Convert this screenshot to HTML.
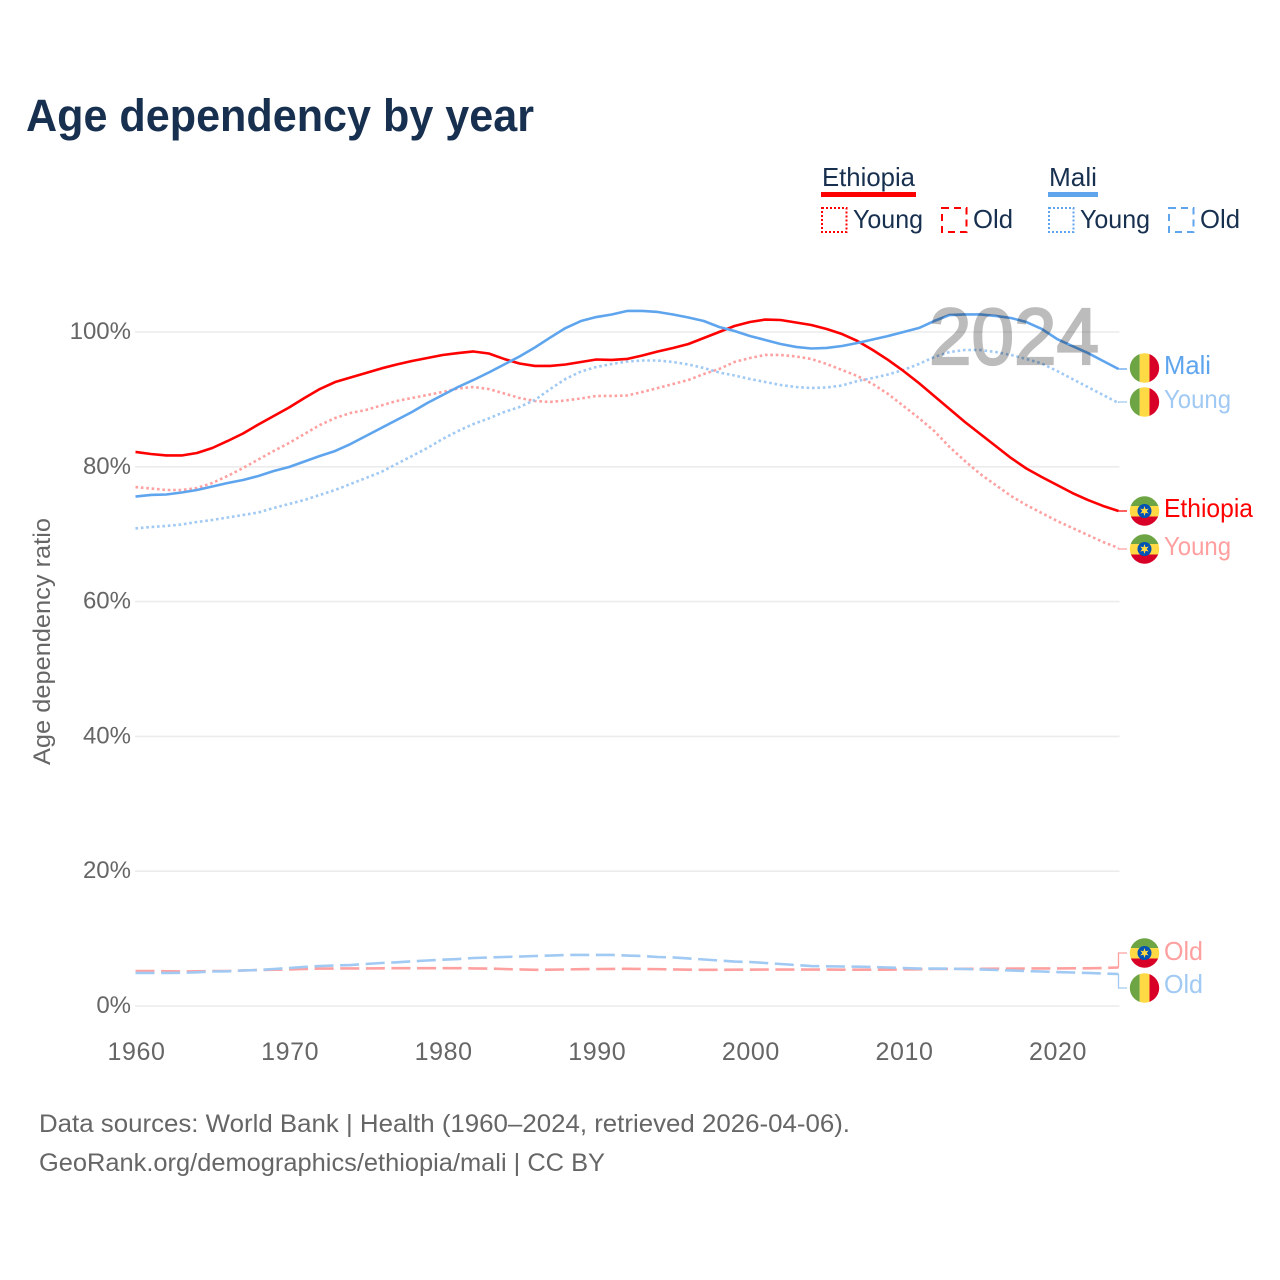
<!DOCTYPE html>
<html lang="en">
<head>
<meta charset="utf-8">
<title>Age dependency by year</title>
<style>
html,body{margin:0;padding:0;background:#fff;}
svg{display:block;}
text{font-family:"Liberation Sans",sans-serif;}
</style>
</head>
<body>
<svg id="chart" xmlns="http://www.w3.org/2000/svg" width="1280" height="1280" viewBox="0 0 1280 1280">
<defs>
<clipPath id="flag-clip"><circle cx="0" cy="0" r="14.7"/></clipPath>
<g id="flag-et" clip-path="url(#flag-clip)">
<rect x="-15" y="-15" width="30" height="10" fill="#6da544"/>
<rect x="-15" y="-5" width="30" height="10.5" fill="#ffda44"/>
<rect x="-15" y="5.5" width="30" height="10" fill="#d80027"/>
<circle r="7" fill="#0052b4"/>
<polygon fill="#ffda44" points="0,-5 1.1,-1.8 4.3,-2.5 2.2,0 4.3,2.5 1.1,1.8 0,5 -1.1,1.8 -4.3,2.5 -2.2,0 -4.3,-2.5 -1.1,-1.8"/>
</g>
<g id="flag-ml" clip-path="url(#flag-clip)">
<rect x="-15" y="-15" width="10.2" height="30" fill="#6da544"/>
<rect x="-4.8" y="-15" width="9.8" height="30" fill="#ffda44"/>
<rect x="5" y="-15" width="10" height="30" fill="#d80027"/>
</g>
</defs>

<text x="26" y="131" font-size="45" font-weight="700" fill="#18304f" textLength="508" lengthAdjust="spacingAndGlyphs">Age dependency by year</text>

<g id="grid"></g>
<g id="series"></g>
<g id="ticks"></g>

<g opacity="0.26">
<text x="929" y="364" font-size="80" fill="#000" stroke="#000" stroke-width="2.2" textLength="170" lengthAdjust="spacingAndGlyphs">2024</text>
</g>

<text transform="translate(50,765) rotate(-90)" font-size="24" fill="#666" textLength="247" lengthAdjust="spacingAndGlyphs">Age dependency ratio</text>

<g>
<text x="822" y="186" font-size="26" fill="#18304f" textLength="93" lengthAdjust="spacingAndGlyphs">Ethiopia</text>
<rect x="821" y="192" width="95" height="5" fill="#ff0000"/>
<rect x="822" y="208" width="24.5" height="24" fill="none" stroke="#ff0000" stroke-width="2" stroke-dasharray="2 2"/>
<text x="853" y="228" font-size="26" fill="#18304f" textLength="70" lengthAdjust="spacingAndGlyphs">Young</text>
<rect x="942" y="208" width="24.5" height="24" fill="none" stroke="#ff0000" stroke-width="2" stroke-dasharray="7 5"/>
<text x="973" y="228" font-size="26" fill="#18304f" textLength="40" lengthAdjust="spacingAndGlyphs">Old</text>
</g>
<g>
<text x="1049" y="186" font-size="26" fill="#18304f" textLength="48" lengthAdjust="spacingAndGlyphs">Mali</text>
<rect x="1048" y="192" width="50" height="5" fill="#5fa5ee"/>
<rect x="1049" y="208" width="24.5" height="24" fill="none" stroke="#5fa5ee" stroke-width="2" stroke-dasharray="2 2"/>
<text x="1080" y="228" font-size="26" fill="#18304f" textLength="70" lengthAdjust="spacingAndGlyphs">Young</text>
<rect x="1169" y="208" width="24.5" height="24" fill="none" stroke="#5fa5ee" stroke-width="2" stroke-dasharray="7 5"/>
<text x="1200" y="228" font-size="26" fill="#18304f" textLength="40" lengthAdjust="spacingAndGlyphs">Old</text>
</g>

<use href="#flag-ml" x="1144.5" y="368"/>
<use href="#flag-ml" x="1144.5" y="402"/>
<use href="#flag-et" x="1144.5" y="511"/>
<use href="#flag-et" x="1144.5" y="549"/>
<use href="#flag-et" x="1144.5" y="953"/>
<use href="#flag-ml" x="1144.5" y="988"/>

<text x="1164" y="374" font-size="26" fill="#5fa5ee" textLength="47" lengthAdjust="spacingAndGlyphs">Mali</text>
<text x="1164" y="408" font-size="26" fill="#a0c9f3" textLength="67" lengthAdjust="spacingAndGlyphs">Young</text>
<text x="1164" y="517" font-size="26" fill="#ff0000" textLength="89" lengthAdjust="spacingAndGlyphs">Ethiopia</text>
<text x="1164" y="555" font-size="26" fill="#ffa0a0" textLength="67" lengthAdjust="spacingAndGlyphs">Young</text>
<text x="1164" y="960" font-size="26" fill="#ffa0a0" textLength="39" lengthAdjust="spacingAndGlyphs">Old</text>
<text x="1164" y="993" font-size="26" fill="#a0c9f3" textLength="39" lengthAdjust="spacingAndGlyphs">Old</text>

<text x="39" y="1132" font-size="25" fill="#666" textLength="811" lengthAdjust="spacingAndGlyphs">Data sources: World Bank | Health (1960–2024, retrieved 2026-04-06).</text>
<text x="39" y="1171" font-size="25" fill="#666" textLength="566" lengthAdjust="spacingAndGlyphs">GeoRank.org/demographics/ethiopia/mali | CC BY</text>
</svg>

<script>
const startYear = 1960;
const endYear = 2024;
const xTickYears = [1960, 1970, 1980, 1990, 2000, 2010, 2020];
const yTickValues = [0, 20, 40, 60, 80, 100];

const ethiopiaTotal = [
82.2,81.9,81.68,81.68,82.05,82.79,83.83,84.94,86.28,87.54,
88.8,90.21,91.54,92.58,93.25,93.92,94.59,95.18,95.7,96.14,
96.59,96.88,97.11,96.81,96.0,95.33,94.96,94.96,95.18,95.55,
95.92,95.85,96.0,96.51,97.11,97.63,98.22,99.11,100.0,100.89,
101.48,101.85,101.78,101.41,101.04,100.45,99.7,98.67,97.33,95.85,
94.22,92.43,90.51,88.58,86.65,84.87,83.09,81.31,79.75,78.49,
77.3,76.11,75.08,74.19,73.44];

const ethiopiaYoung = [
77.0,76.78,76.56,76.56,76.85,77.6,78.64,79.82,81.08,82.35,
83.53,84.87,86.2,87.24,87.98,88.43,89.1,89.76,90.21,90.65,
91.1,91.62,91.84,91.54,90.88,90.21,89.76,89.62,89.84,90.14,
90.51,90.51,90.58,91.1,91.69,92.29,92.88,93.77,94.51,95.55,
96.14,96.59,96.59,96.37,96.0,95.25,94.36,93.47,92.29,90.8,
89.02,87.24,85.31,82.94,80.86,78.93,77.3,75.67,74.33,73.15,
71.96,70.92,69.88,68.84,67.95];

const ethiopiaOld = [
5.19,5.19,5.15,5.12,5.15,5.19,5.19,5.27,5.34,5.39,
5.42,5.49,5.56,5.56,5.58,5.58,5.59,5.61,5.61,5.61,
5.61,5.61,5.58,5.55,5.49,5.42,5.37,5.39,5.42,5.46,
5.49,5.5,5.52,5.49,5.47,5.43,5.39,5.37,5.37,5.39,
5.39,5.4,5.4,5.4,5.4,5.4,5.39,5.39,5.39,5.39,
5.42,5.45,5.49,5.5,5.52,5.52,5.53,5.55,5.56,5.58,
5.58,5.59,5.59,5.64,5.71];

const maliTotal = [
75.59,75.82,75.89,76.19,76.56,77.08,77.6,78.04,78.64,79.38,
79.97,80.79,81.6,82.35,83.38,84.57,85.76,86.94,88.13,89.47,
90.65,91.84,92.88,93.99,95.18,96.36,97.7,99.18,100.59,101.63,
102.22,102.6,103.12,103.12,102.97,102.6,102.15,101.63,100.74,100.15,
99.41,98.82,98.22,97.78,97.55,97.63,97.92,98.37,98.89,99.41,
100.0,100.59,101.63,102.52,102.6,102.6,102.38,102.08,101.48,100.45,
98.96,97.92,96.89,95.7,94.51];

const maliYoung = [
70.85,71.07,71.22,71.44,71.81,72.11,72.48,72.85,73.22,73.89,
74.48,75.08,75.82,76.56,77.45,78.34,79.23,80.42,81.6,82.79,
84.13,85.31,86.35,87.17,88.13,88.87,89.91,91.54,93.03,94.14,
94.81,95.25,95.62,95.77,95.77,95.55,95.18,94.66,93.99,93.55,
93.03,92.58,92.14,91.84,91.69,91.77,92.06,92.73,93.18,93.7,
94.36,95.25,96.29,97.03,97.33,97.33,97.03,96.59,96.0,95.33,
94.22,93.03,91.84,90.65,89.47];

const maliOld = [
4.9,4.9,4.9,4.93,5.0,5.12,5.15,5.27,5.34,5.49,
5.64,5.79,5.93,6.01,6.08,6.23,6.38,6.48,6.63,6.75,
6.87,6.97,7.12,7.2,7.27,7.34,7.42,7.49,7.57,7.57,
7.57,7.57,7.49,7.42,7.27,7.2,7.05,6.9,6.75,6.6,
6.53,6.38,6.23,6.08,5.93,5.89,5.86,5.83,5.79,5.71,
5.64,5.56,5.56,5.53,5.49,5.42,5.34,5.27,5.19,5.12,
5.04,4.97,4.9,4.82,4.75];

const NS = 'http://www.w3.org/2000/svg';
function xScale(year) { return 135.5 + (year - startYear) * (1118.5 - 135.5) / (endYear - startYear); }
function yScale(value) { return 1006 - value * 6.74; }
function make(tag, attrs, parent) {
  const el = document.createElementNS(NS, tag);
  for (const k in attrs) el.setAttribute(k, attrs[k]);
  parent.appendChild(el);
  return el;
}
function linePath(values) {
  return values.map(function (v, i) {
    return (i ? 'L' : 'M') + xScale(startYear + i).toFixed(2) + ' ' + yScale(v).toFixed(2);
  }).join('');
}

const gridGroup = document.getElementById('grid');
const tickGroup = document.getElementById('ticks');
const seriesGroup = document.getElementById('series');

yTickValues.forEach(function (v) {
  const line = make('line', { x1: 135, x2: 1119.5, y1: yScale(v), y2: yScale(v), stroke: '#ececec', 'stroke-width': 1.6 }, gridGroup);
  
  
  const label = make('text', { x: 131, y: yScale(v) + 7, 'text-anchor': 'end', 'font-size': 24, fill: '#666' }, tickGroup);
  label.textContent = v + '%';
  
  
});

xTickYears.forEach(function (year) {
  const label = make('text', { x: xScale(year) + 1, y: 1060, 'text-anchor': 'middle', 'font-size': 25, 'letter-spacing': 0.6, fill: '#666' }, tickGroup);
  label.textContent = year;
  
  
});

function drawSeries(name, values, color, dash, labelY) {
  const attrs = { d: linePath(values), fill: 'none', stroke: color, 'stroke-width': 2.6, 'stroke-linejoin': 'round' };
  if (dash) attrs['stroke-dasharray'] = dash;
  const line = make('path', attrs, seriesGroup);
  
  
  const endX = xScale(endYear);
  const endY = yScale(values[values.length - 1]);
  const conn = make('path', {
    d: 'M' + endX + ' ' + endY + 'L1118.5 ' + endY + 'L1118.5 ' + labelY + 'L1127 ' + labelY,
    fill: 'none', stroke: color, 'stroke-width': 1.3
  }, seriesGroup);
  
  
}

drawSeries('ethiopia-old', ethiopiaOld, '#ffa0a0', '19 6.6', 953);
drawSeries('mali-old', maliOld, '#a0c9f3', '19 6.6', 988);
drawSeries('ethiopia-young', ethiopiaYoung, '#ffa0a0', '2.6 2.8', 549);
drawSeries('mali-young', maliYoung, '#a0c9f3', '2.6 2.8', 402);
drawSeries('ethiopia-total', ethiopiaTotal, '#ff0000', '', 511);
drawSeries('mali-total', maliTotal, '#5fa5ee', '', 369);
</script>
</body>
</html>
